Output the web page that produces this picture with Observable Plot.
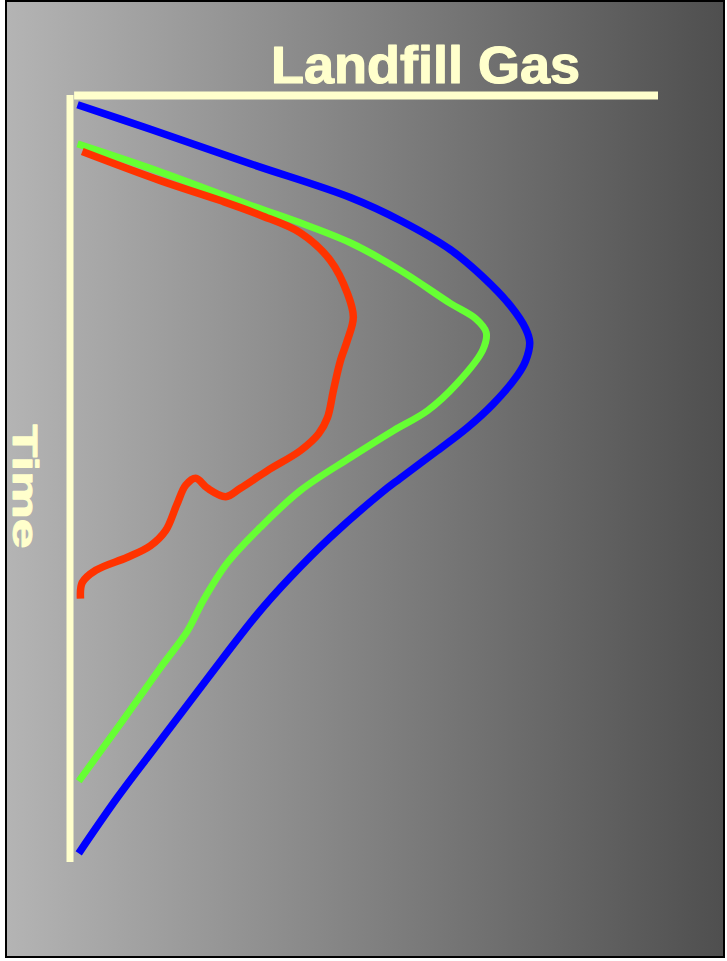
<!DOCTYPE html>
<html>
<head>
<meta charset="utf-8">
<script src="https://cdn.jsdelivr.net/npm/d3@7"></script>
<script src="https://cdn.jsdelivr.net/npm/@observablehq/plot@0.6"></script>
<style>
  html, body { margin: 0; padding: 0; background: #fff; width: 727px; height: 961px; overflow: hidden; }
  #frame { position: absolute; left: 5px; top: 0; width: 720px; height: 958px; box-sizing: border-box;
           border: 2px solid #000; background: linear-gradient(to right, #b4b4b4, #4f4f4f); }
  #chart { position: absolute; left: 0; top: 0; }
</style>
</head>
<body>
<div id="frame"></div>
<div id="chart"></div>
<script>
// Text
const titleText = "Landfill Gas";
const axisLabel = "Time";

// Blue curve (gas amount vs time, arbitrary units 0-100)
const blueGas  = [1.2, 13.6, 30.6, 47.6, 56.1, 64.6, 70.2, 74.8, 77.4, 78.1, 77.4, 76.0, 71.9, 67.5, 62.4, 56.1, 52.7, 44.2, 37.4, 31.8, 23.0, 15.3, 8.0, 1.4];
const blueTime = [1.2, 4.4, 8.9, 13.3, 16.3, 20.1, 23.7, 27.4, 30.4, 32.2, 34.6, 36.5, 40.2, 43.3, 46.3, 49.9, 51.9, 57.6, 62.8, 67.6, 76.3, 84.1, 91.5, 98.8];

// Green curve
const greenGas  = [1.2, 13.6, 30.6, 39.1, 47.6, 56.1, 64.6, 68.9, 70.7, 70.1, 65.8, 60.7, 54.9, 47.6, 39.1, 32.3, 26.7, 22.6, 19.9, 15.3, 8.5, 1.4];
const greenTime = [6.3, 9.5, 14.3, 16.6, 19.2, 22.8, 27.1, 29.1, 30.9, 33.2, 37.5, 41.1, 43.7, 47.2, 51.5, 56.3, 60.9, 65.8, 69.8, 74.6, 81.9, 89.4];

// Red curve
const redGas  = [2.0, 15.3, 25.5, 32.3, 39.1, 44.2, 47.1, 48.1, 47.1, 45.9, 44.7, 43.7, 42.2, 39.1, 33.5, 28.9, 26.4, 23.3, 21.3, 19.6, 18.0, 16.2, 13.6, 9.7, 4.3, 2.0, 1.7];
const redTime = [7.3, 11.1, 13.7, 15.6, 17.9, 21.5, 25.8, 28.9, 31.9, 34.6, 38.5, 42.0, 44.1, 46.3, 48.9, 51.2, 52.3, 51.2, 49.9, 50.8, 53.5, 56.7, 58.7, 60.2, 61.9, 63.5, 65.6];

const toRows = (g, t) => g.map((v, i) => ({gas: v, time: t[i]}));
const blue = toRows(blueGas, blueTime);
const green = toRows(greenGas, greenTime);
const red = toRows(redGas, redTime);

const cream = "#ffffcc";

const chart = Plot.plot({
  width: 727,
  height: 961,
  marginLeft: 70,
  marginRight: 69,
  marginTop: 95,
  marginBottom: 99,
  x: {domain: [0, 100], axis: null},
  y: {domain: [0, 100], axis: null, reverse: true},
  style: {background: "transparent", overflow: "visible"},
  marks: [
    Plot.ruleX([0], {y1: 0, y2: 100, stroke: cream, strokeWidth: 7, dx: -0.5}),
    Plot.ruleY([0], {x1: 0.7, x2: 100, stroke: cream, strokeWidth: 8}),
    Plot.line(blue, {x: "gas", y: "time", stroke: "#0000ff", strokeWidth: 7.5, curve: "catmull-rom", strokeLinecap: "butt"}),
    Plot.line(green, {x: "gas", y: "time", stroke: "#66ff33", strokeWidth: 7, curve: "catmull-rom", strokeLinecap: "butt"}),
    Plot.line(red, {x: "gas", y: "time", stroke: "#ff3300", strokeWidth: 7.5, curve: "catmull-rom", strokeLinecap: "butt"}),
    Plot.text([titleText], {frameAnchor: "top-left", dx: 355, dy: -13, text: d => d, textAnchor: "middle", lineAnchor: "bottom",
      fill: cream, stroke: cream, strokeWidth: 1.2, fontSize: 51, fontWeight: "bold", fontFamily: "Liberation Sans, Arial, sans-serif"}),
    Plot.text([axisLabel], {frameAnchor: "top-left", dx: -46, dy: 391, text: d => d, rotate: 90, textAnchor: "middle", lineAnchor: "middle",
      fill: cream, stroke: cream, strokeWidth: 1, fontSize: 35, fontWeight: "bold", fontFamily: "Liberation Sans, Arial, sans-serif"})
  ]
});

document.getElementById("chart").appendChild(chart);

// Stretch the texts to the widths they occupy in the original
d3.select(chart).selectAll("text").each(function() {
  const t = d3.select(this);
  const s = t.text();
  if (s === titleText) t.attr("textLength", 309).attr("lengthAdjust", "spacingAndGlyphs");
  if (s === axisLabel) t.attr("textLength", 124).attr("lengthAdjust", "spacingAndGlyphs");
});
</script>
</body>
</html>
